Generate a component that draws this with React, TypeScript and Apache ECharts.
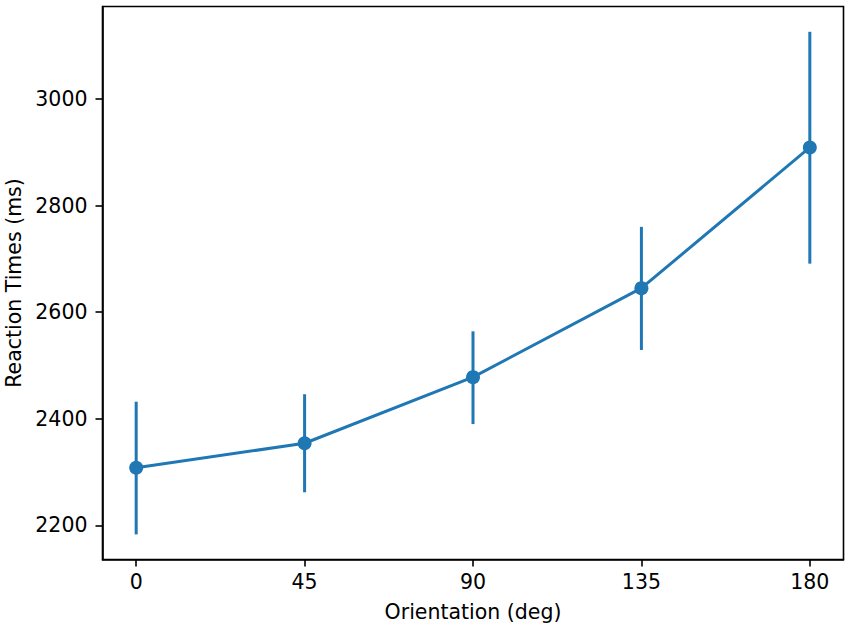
import React, { useEffect, useRef } from "react";
import * as echarts from "echarts";

const orientations = [0, 45, 90, 135, 180];
const meanRT = [2308, 2354, 2478, 2645, 2909];
const ciLow = [2183, 2262, 2390, 2529, 2691];
const ciHigh = [2432, 2446, 2564, 2760, 3126];
const yTicks = [2200, 2400, 2600, 2800, 3000];

const BLUE = "#1f77b4";
const FONT = "DejaVu Sans";
const FS = 20.5;

export default function App() {
  const ref = useRef<HTMLDivElement>(null);
  useEffect(() => {
    if (!ref.current) return;
    const chart = echarts.init(ref.current, null, { renderer: "svg" });
    const errData = orientations.map((o, i) => [o, ciLow[i], ciHigh[i]]);
    chart.setOption({
      animation: false,
      backgroundColor: "#ffffff",
      grid: {
        left: 102.5,
        right: 7.5,
        top: 6.5,
        bottom: 69.5,
        containLabel: false,
        outerBoundsMode: "none",
        show: true,
        borderColor: "#000",
        borderWidth: 1.6,
        backgroundColor: "transparent",
      },
      xAxis: {
        type: "value",
        min: -9,
        max: 189,
        name: "Orientation (deg)",
        nameLocation: "middle",
        nameGap: 42,
        nameTextStyle: { fontFamily: FONT, fontSize: FS, color: "#000" },
        axisLine: { show: true, onZero: false, lineStyle: { color: "#000", width: 1.6 } },
        axisTick: {
          show: true,
          length: 7,
          lineStyle: { color: "#000", width: 1.6 },
          customValues: orientations,
        },
        axisLabel: {
          fontFamily: FONT,
          fontSize: FS,
          color: "#000",
          margin: 12,
          customValues: orientations,
          formatter: (v: number) => String(v),
        },
        splitLine: { show: false },
      },
      yAxis: {
        type: "value",
        min: 2135.9,
        max: 3173.5,
        name: "Reaction Times (ms)",
        nameLocation: "middle",
        nameGap: 75,
        nameTextStyle: { fontFamily: FONT, fontSize: FS, color: "#000" },
        axisLine: { show: true, onZero: false, lineStyle: { color: "#000", width: 1.6 } },
        axisTick: {
          show: true,
          length: 7,
          lineStyle: { color: "#000", width: 1.6 },
          customValues: yTicks,
        },
        axisLabel: {
          fontFamily: FONT,
          fontSize: FS,
          color: "#000",
          margin: 15,
          customValues: yTicks,
          formatter: (v: number) => String(v),
        },
        splitLine: { show: false },
      },
      series: [
        {
          type: "custom",
          data: errData,
          z: 2,
          renderItem: (params: any, api: any) => {
            const x = api.value(0);
            const p1 = api.coord([x, api.value(1)]);
            const p2 = api.coord([x, api.value(2)]);
            return {
              type: "line",
              shape: { x1: p1[0], y1: p1[1], x2: p2[0], y2: p2[1] },
              style: { stroke: BLUE, lineWidth: 3 },
            };
          },
        },
        {
          type: "line",
          data: orientations.map((o, i) => [o, meanRT[i]]),
          z: 3,
          symbol: "circle",
          symbolSize: 14,
          itemStyle: { color: BLUE },
          lineStyle: { color: BLUE, width: 3 },
        },
      ],
    });
    return () => chart.dispose();
  }, []);
  return (
    <div
      ref={ref}
      style={{ position: "fixed", left: 0, top: 0, width: 851, height: 629 }}
    />
  );
}
